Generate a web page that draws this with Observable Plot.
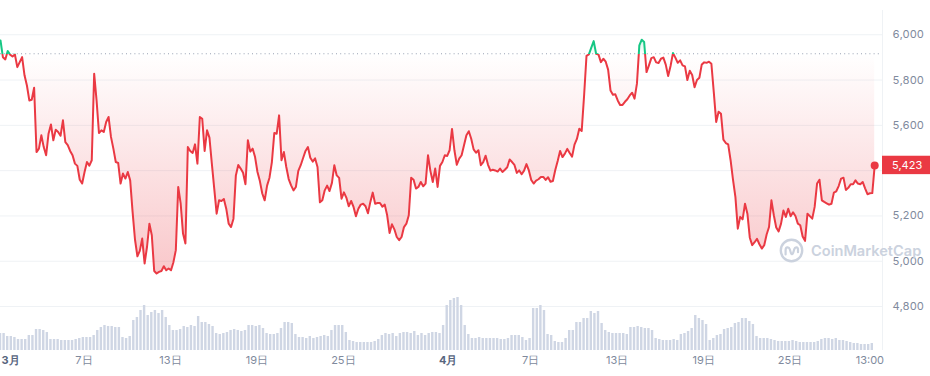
<!DOCTYPE html>
<html><head><meta charset="utf-8">
<script src="https://cdn.jsdelivr.net/npm/d3@7"></script>
<script src="https://cdn.jsdelivr.net/npm/@observablehq/plot@0.6"></script>
<style>
body{margin:0;background:#fff;}
#wrap{position:relative;width:930px;height:376px;overflow:hidden;font-family:Inter,sans-serif;background:#fff;}
#wrap > svg, #wrap > div{position:absolute;left:0;top:0;}
#wm{left:779px !important;top:238px !important;display:flex;align-items:center;gap:7px;color:#cbd2de;font:600 14.6px Inter,sans-serif;white-space:nowrap;}
</style></head><body><div id="wrap"></div>
<script>
// ---- data ----
const startTime = "2024-03-01T05:00:00Z";
const endTime = "2024-05-01T10:00:00Z";
const priceStepHours = 4;
const volumeStepHours = 6;
const openPrice = 5916;
const price = [
5975, 5901, 5891, 5928, 5912, 5904, 5913, 5857, 5879, 5901,
5821, 5776, 5710, 5713, 5766, 5482, 5497, 5556, 5504, 5468,
5563, 5604, 5534, 5581, 5571, 5554, 5622, 5526, 5513, 5487,
5468, 5431, 5421, 5360, 5343, 5394, 5438, 5422, 5446, 5828,
5710, 5566, 5578, 5571, 5615, 5637, 5549, 5497, 5438, 5434,
5343, 5387, 5365, 5394, 5357, 5218, 5096, 5022, 5046, 5100,
4990, 5063, 5166, 5115, 4957, 4946, 4953, 4957, 4978, 4960,
4968, 4960, 4996, 5049, 5328, 5257, 5122, 5078, 5504, 5487,
5478, 5516, 5431, 5637, 5629, 5487, 5578, 5546, 5431, 5321,
5210, 5269,
5266, 5275, 5232, 5166, 5151, 5188, 5379, 5425, 5409, 5391,
5340, 5534, 5484, 5497, 5460, 5394, 5354, 5299, 5269, 5334,
5369, 5438, 5566, 5563, 5644, 5446, 5482, 5416, 5363, 5335,
5313, 5328, 5399, 5424, 5456, 5487, 5504, 5457, 5440, 5454,
5416, 5260, 5269, 5313, 5334, 5310, 5346, 5424, 5379, 5368,
5276, 5304, 5281, 5243, 5266, 5240, 5199, 5232, 5250, 5254,
5243, 5212, 5262, 5303, 5254, 5257, 5257, 5241, 5250, 5203,
5125, 5163, 5141, 5107, 5093, 5107, 5151, 5166, 5203, 5369,
5360, 5321, 5328, 5350, 5331, 5343, 5468, 5399, 5350, 5409,
5328, 5421,
5438, 5468, 5465, 5490, 5584, 5490, 5426, 5453, 5468, 5512,
5556, 5574, 5541, 5494, 5479, 5490, 5424, 5438, 5466, 5426,
5400, 5404, 5401, 5396, 5409, 5394, 5404, 5415, 5449, 5438,
5425, 5390, 5401, 5384, 5400, 5429, 5401, 5359, 5343, 5356,
5362, 5372, 5372, 5359, 5371, 5351, 5354, 5403, 5443, 5487,
5460, 5475, 5496, 5478, 5462, 5515, 5540, 5585, 5575, 5732,
5907, 5913, 5943, 5972, 5916, 5912, 5879, 5894, 5881, 5846,
5754, 5735, 5737, 5710, 5690, 5690, 5704, 5715, 5732, 5744,
5718, 5784, 5953, 5978, 5968, 5835, 5865, 5897, 5901, 5878,
5875, 5894,
5899, 5868, 5818, 5862, 5919, 5899, 5876, 5887, 5865, 5860,
5800, 5841, 5822, 5768, 5800, 5810, 5869, 5878, 5876, 5881,
5872, 5747, 5615, 5660, 5651, 5537, 5522, 5516, 5446, 5360,
5284, 5144, 5196, 5185, 5254, 5210, 5104, 5071, 5084, 5099,
5075, 5056, 5071, 5118, 5151, 5269, 5203, 5149, 5132, 5166,
5224, 5196, 5232, 5199, 5216, 5200, 5166, 5159, 5109, 5090,
5210, 5199, 5188, 5240, 5343, 5360, 5269, 5262, 5256, 5250,
5254, 5303, 5309, 5332, 5365, 5369, 5315, 5324, 5340, 5340,
5357, 5343, 5340, 5350, 5322, 5296, 5300, 5301, 5423
];
const volume = [
17, 17, 14, 14, 13, 11, 11, 11, 15, 15,
21, 21, 20, 18, 11, 11, 11, 10, 10, 10,
10, 11, 12, 13, 13, 13, 15, 20, 23, 25,
24, 24, 23, 23, 13, 12, 14, 30, 33, 40,
45, 35, 38, 40, 37, 40, 33, 25, 20, 20,
21, 24, 23, 25, 24, 34, 28, 28, 26, 24,
17, 16, 17, 18, 20, 21, 20, 19, 20, 25,
25, 24, 25, 22, 17, 16, 16, 17, 22, 28,
28, 27, 16, 13, 13, 12, 14, 12, 13, 14,
15, 14, 20, 25, 25, 25, 18, 10, 9, 8,
8, 8, 8, 8, 9, 11, 15, 17, 16, 17,
14, 17, 18, 18, 17, 19, 15, 17, 15, 17,
18, 18, 17, 25, 45, 50, 52, 53, 45, 25,
16, 12, 12, 13, 12, 12, 12, 12, 12, 11,
11, 12, 15, 15, 15, 13, 10, 12, 42, 42,
45, 40, 16, 15, 9, 8, 8, 12, 20, 20,
28, 28, 32, 32, 39, 37, 39, 27, 20, 18,
17, 17, 17, 17, 16, 23, 23, 24, 23, 22,
22, 20, 12, 11, 10, 10, 10, 11, 10, 16,
17, 19, 22, 35, 32, 30, 26, 10, 12, 15,
16, 21, 22, 23, 27, 28, 32, 32, 29, 26,
14, 12, 12, 12, 11, 10, 9, 9, 9, 9,
10, 9, 8, 8, 8, 8, 8, 9, 11, 12,
12, 11, 12, 10, 10, 9, 8, 7, 7, 6,
6, 6, 7
];
const yTicks = [4800, 5000, 5200, 5400, 5600, 5800, 6000];
const monthTickDates = ["2024-03-01T00:00:00Z", "2024-04-01T00:00:00Z"];
const monthTickLabels = ["3月", "4月"];
const dayTickDates = ["2024-03-07T00:00:00Z", "2024-03-13T00:00:00Z", "2024-03-19T00:00:00Z", "2024-03-25T00:00:00Z",
  "2024-04-07T00:00:00Z", "2024-04-13T00:00:00Z", "2024-04-19T00:00:00Z", "2024-04-25T00:00:00Z", "2024-04-30T13:00:00Z"];
const dayTickLabels = ["7日", "13日", "19日", "25日", "7日", "13日", "19日", "25日", "13:00"];

// ---- build tables ----
const t0 = new Date(startTime).getTime();
const H = 3600e3;
const priceData = price.map((p, i) => ({date: new Date(t0 + i * priceStepHours * H), price: p}));
const volData = volume.map((v, i) => ({date: new Date(t0 + i * volumeStepHours * H), v}));
const dayTicks = dayTickDates.map((d, i) => ({date: new Date(d), label: dayTickLabels[i]}));
const monthTicks = monthTickDates.map((d, i) => ({date: new Date(d), label: monthTickLabels[i]}));
const last = priceData[priceData.length - 1];
const fmt = d3.format(",");
const labelTicks = yTicks.filter(v => Math.abs(v - last.price) > 40);

const RED = "#ea3943", GREEN = "#16c784";
const W = 930, HT = 376;
const xCfg = {type: "utc", domain: [new Date(startTime), new Date(endTime)], axis: null};

const pricePlot = Plot.plot({
  width: W, height: HT,
  marginLeft: 0, marginRight: 48, marginTop: 10, marginBottom: 26,
  style: {background: "transparent", fontFamily: "Inter, sans-serif", fontSize: "11px", overflow: "visible"},
  x: xCfg,
  y: {domain: [4606, 6107], label: null},
  marks: [
    Plot.ruleY(yTicks, {stroke: "#eff2f5", strokeWidth: 1}),
    Plot.ruleX([new Date(endTime)], {stroke: "#eff2f5"}),
    Plot.areaY(priceData, {x: "date", y1: openPrice, y2: "price", fill: "url(#cmcFill)"}),
    Plot.ruleY([openPrice], {stroke: "#98a1b3", strokeDasharray: "1,3.2"}),
    Plot.line(priceData, {x: "date", y: "price", stroke: "url(#cmcLine)", strokeWidth: 2, strokeLinejoin: "round"}),
    Plot.dot([last], {x: "date", y: "price", r: 4, fill: RED}),
    Plot.axisY(labelTicks, {anchor: "right", label: null, tickSize: 0, tickPadding: 10, tickFormat: fmt, fill: "#808a9d", fontSize: 11}),
    Plot.text(dayTicks, {x: "date", text: "label", frameAnchor: "bottom", dy: 13, fill: "#808a9d", fontSize: 11}),
    Plot.text(monthTicks.slice(0, 1), {text: "label", frameAnchor: "bottom-left", textAnchor: "start", dx: 1, dy: 13, fill: "#58667e", fontWeight: "bold", fontSize: 11}),
    Plot.text(monthTicks.slice(1), {x: "date", text: "label", frameAnchor: "bottom", dx: 4, dy: 13, fill: "#58667e", fontWeight: "bold", fontSize: 11})
  ]
});

// gradients derived from the plot's y scale
const ys = pricePlot.scale("y");
const yBase = ys.apply(openPrice);
const yLow = ys.apply(d3.min(price));
const yHigh = ys.apply(d3.max(price));
const svg = d3.select(pricePlot);
const defs = svg.insert("defs", ":first-child");
const lg = defs.append("linearGradient").attr("id", "cmcLine").attr("gradientUnits", "userSpaceOnUse")
  .attr("x1", 0).attr("x2", 0).attr("y1", 0).attr("y2", HT);
lg.append("stop").attr("offset", yBase / HT).attr("stop-color", GREEN);
lg.append("stop").attr("offset", yBase / HT).attr("stop-color", RED);
const fg = defs.append("linearGradient").attr("id", "cmcFill").attr("gradientUnits", "userSpaceOnUse")
  .attr("x1", 0).attr("x2", 0).attr("y1", yHigh).attr("y2", yLow);
const off = (yBase - yHigh) / (yLow - yHigh);
fg.append("stop").attr("offset", 0).attr("stop-color", GREEN).attr("stop-opacity", 0.18);
fg.append("stop").attr("offset", off).attr("stop-color", GREEN).attr("stop-opacity", 0);
fg.append("stop").attr("offset", off).attr("stop-color", RED).attr("stop-opacity", 0);
fg.append("stop").attr("offset", 1).attr("stop-color", RED).attr("stop-opacity", 0.28);

// last-price label box
const xr = pricePlot.scale("x").range;
const yLast = ys.apply(last.price);
const g = svg.append("g");
g.append("rect").attr("x", xr[1]).attr("y", yLast - 9.2).attr("width", W - xr[1]).attr("height", 18.4).attr("fill", RED);
g.append("text").attr("x", xr[1] + 10).attr("y", yLast).attr("dy", "0.35em").attr("fill", "#fff")
  .attr("font-size", 11).attr("font-family", "Inter, sans-serif").attr("text-anchor", "start").text(fmt(last.price));

const volPlot = Plot.plot({
  width: W, height: HT,
  marginLeft: 0, marginRight: 48, marginTop: 290, marginBottom: 26,
  style: {background: "transparent", overflow: "visible"},
  x: xCfg,
  y: {domain: [0, 60], axis: null},
  marks: [
    Plot.rectY(volData, {
      x1: d => new Date(d.date.getTime() - volumeStepHours * H / 2),
      x2: d => new Date(d.date.getTime() + volumeStepHours * H / 2),
      y: "v", fill: "#cfd6e4", insetLeft: 0.6, insetRight: 0.6
    })
  ]
});

const wrap = document.getElementById("wrap");
wrap.appendChild(pricePlot);
wrap.appendChild(volPlot);
const wm = document.createElement("div");
wm.id = "wm";
wm.innerHTML = '<svg width="25" height="25" viewBox="0 0 25 25"><circle cx="12.5" cy="12.5" r="10.7" fill="none" stroke="#cbd2de" stroke-width="2.4"/>' +
  '<path d="M6.6 16.5 L6.6 12 C6.6 8.6 10 8.6 10.8 11.2 L11.9 15 C12.4 16.6 13.6 16.6 14.1 15 L15.3 11.2 C16 8.6 19 8.8 19 11.6 L19 14.2" fill="none" stroke="#cbd2de" stroke-width="2.2" stroke-linecap="round" stroke-linejoin="round"/></svg><span>CoinMarketCap</span>';
wrap.appendChild(wm);
</script></body></html>
